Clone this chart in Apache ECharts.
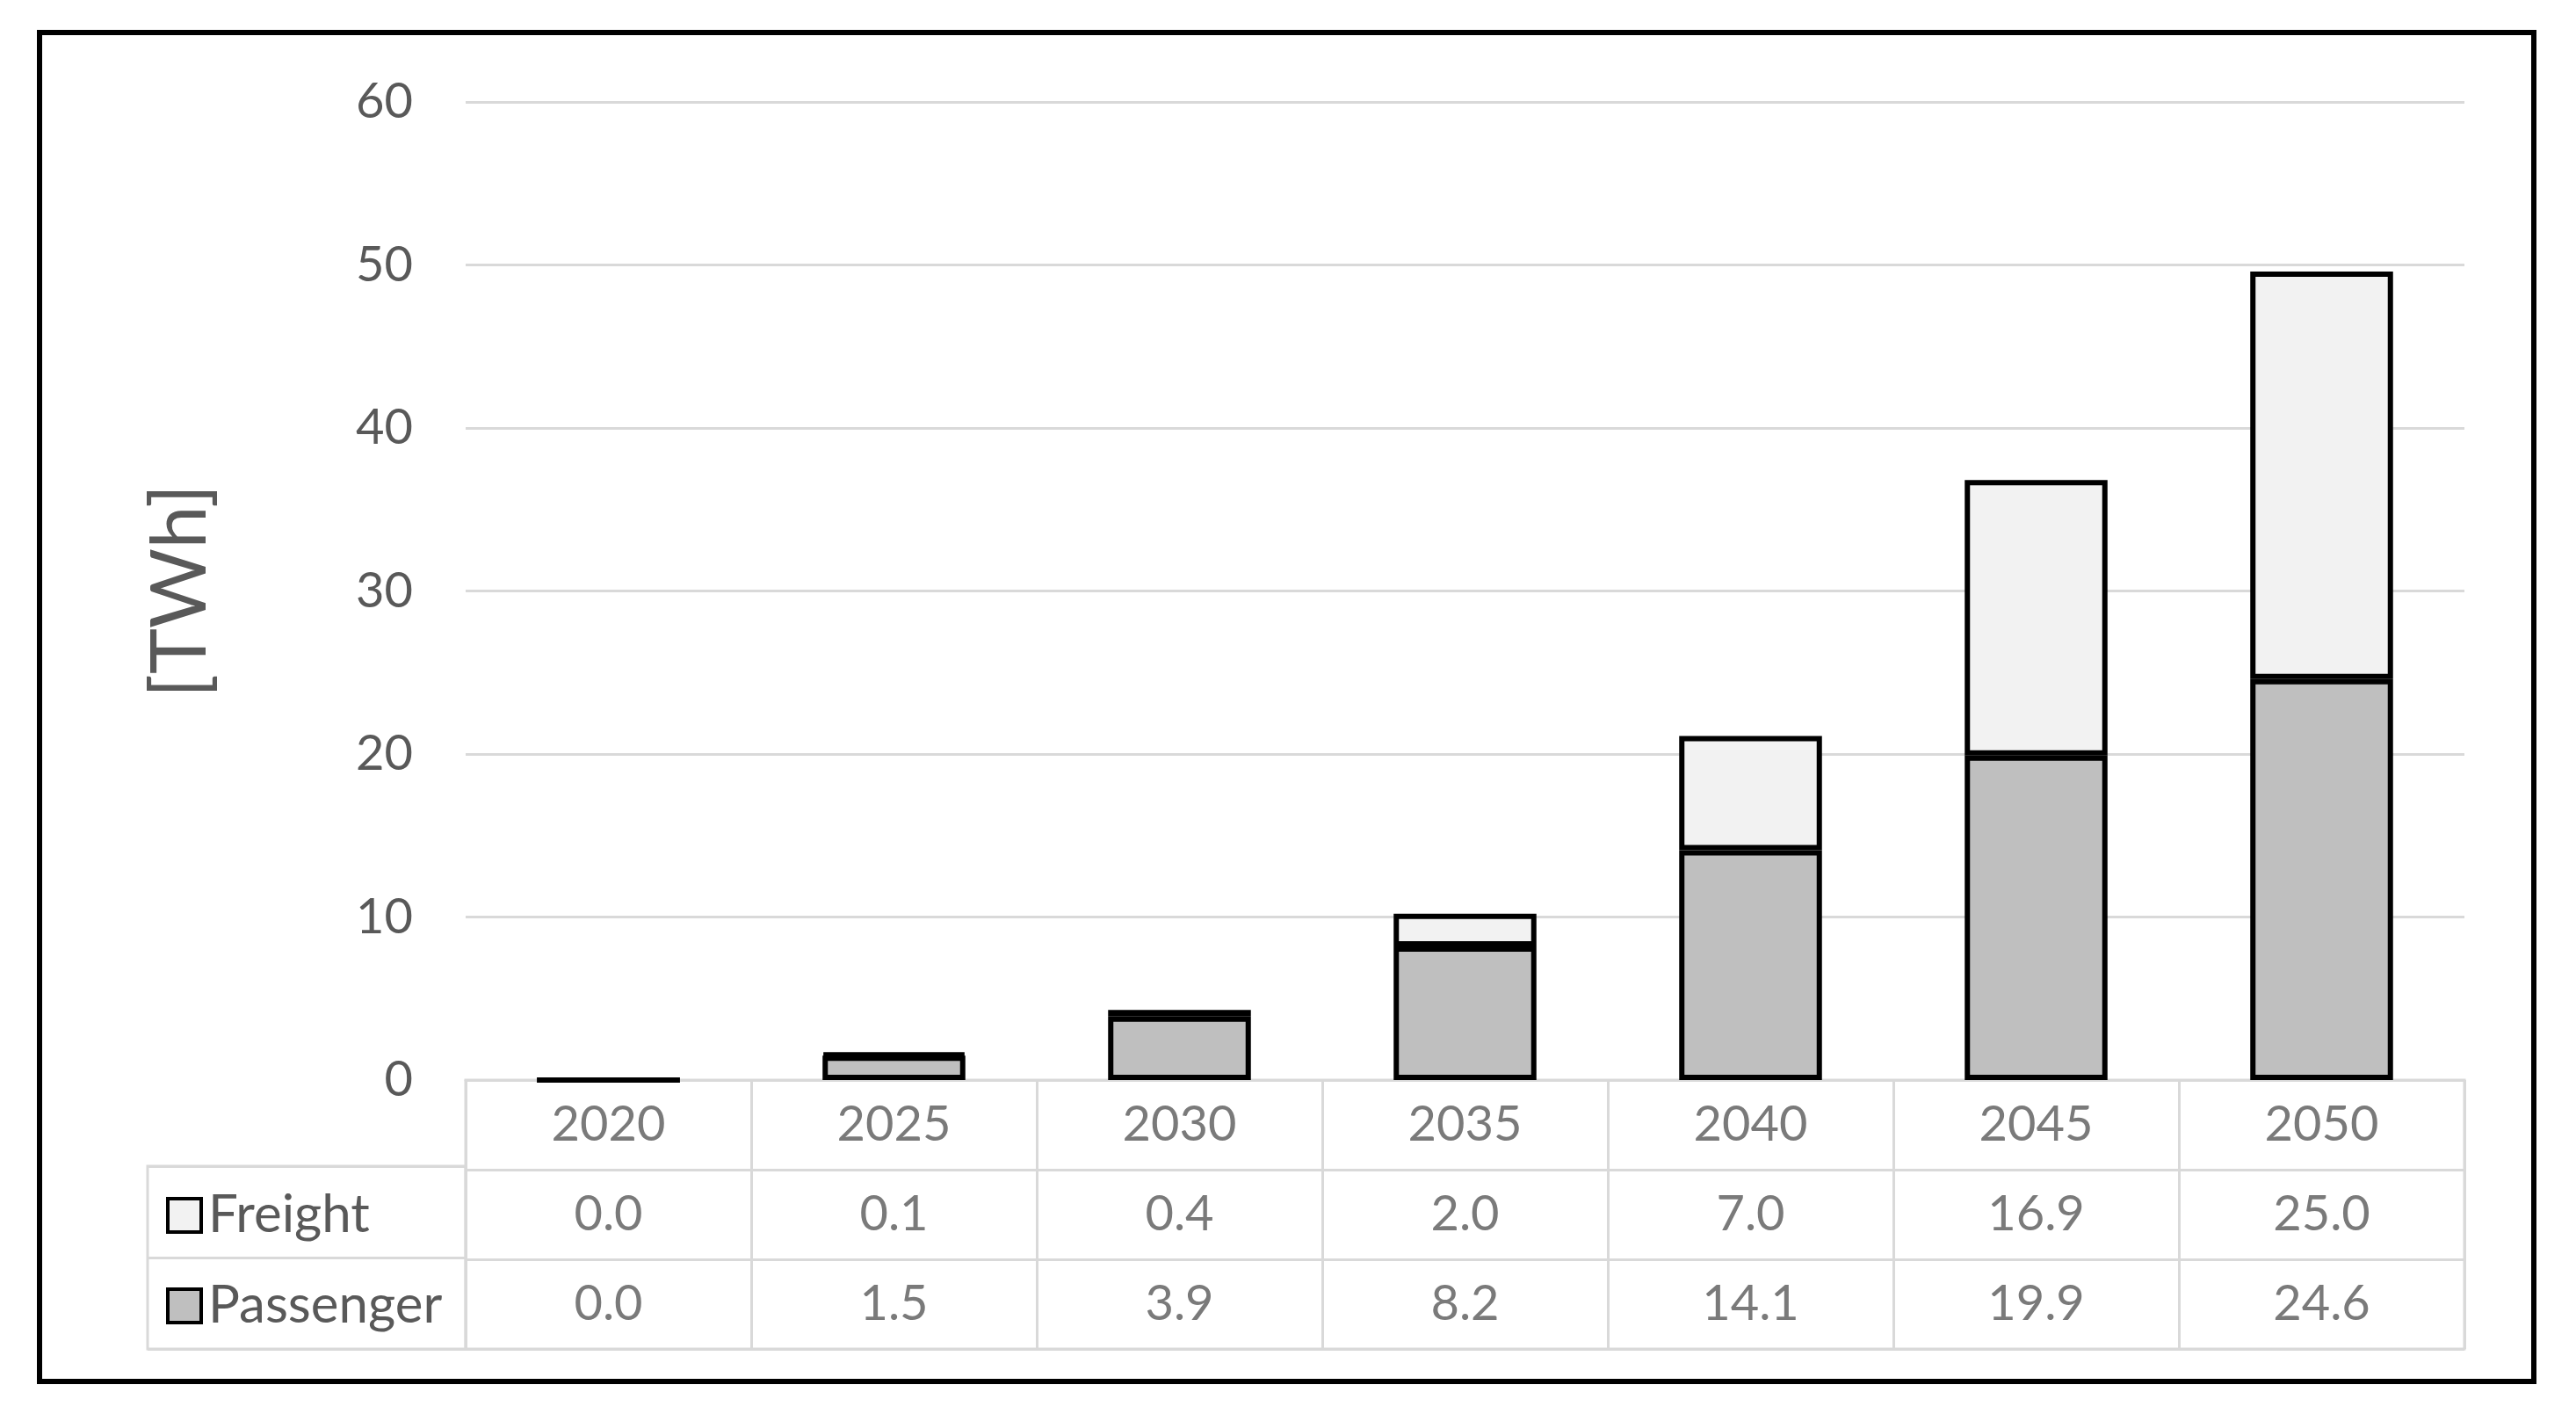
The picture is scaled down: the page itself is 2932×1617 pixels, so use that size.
<!DOCTYPE html>
<html><head><meta charset="utf-8">
<script src="https://cdn.jsdelivr.net/npm/echarts@6/dist/echarts.min.js"></script>
<style>html,body{margin:0;padding:0;background:#fff}#c{width:2932px;height:1617px}</style>
</head><body><div id="c"></div>
<script>
// ---- data ----
const categories = ['2020','2025','2030','2035','2040','2045','2050'];
const freight = [0.0, 0.1, 0.4, 2.0, 7.0, 16.9, 25.0];
const passenger = [0.0, 1.5, 3.9, 8.2, 14.1, 19.9, 24.6];
const yMin = 0, yMax = 60, yStep = 10;
const tableRows = ['year', 'Freight', 'Passenger'];
const legendRows = ['Freight', 'Passenger'];
const yTitle = '[TWh]';

// ---- styles ----
const FONT = 'Lato';
const TXT = '#595959';
const GRIDC = '#D9D9D9';
const FS = 56;

const chart = echarts.init(document.getElementById('c'), null, {renderer: 'canvas'});

function cellSeries(name, row, values, fmt) {
  return {
    name: name, type: 'scatter', xAxisIndex: 1, yAxisIndex: 1,
    symbolSize: 1, itemStyle: {color: 'rgba(0,0,0,0)'}, silent: true, z: 10,
    data: values.map((v, i) => [categories[i], row, v]),
    label: {show: true, position: 'inside', color: TXT, fontSize: FS, fontFamily: FONT,
      formatter: p => fmt(p.value[2])}
  };
}

const legendBase = {
  orient: 'vertical', padding: 0, left: 189,
  icon: 'rect', itemWidth: 38, itemHeight: 38,
  itemStyle: {borderColor: '#000', borderWidth: 4},
  textStyle: {color: TXT, fontSize: 60, fontFamily: FONT, lineHeight: 38, padding: [0, 0, 0, 3]}
};

const option = {
  animation: false,
  backgroundColor: '#fff',
  graphic: [{type: 'rect', shape: {x: 45, y: 37, width: 2839, height: 1535},
    style: {fill: 'none', stroke: '#000', lineWidth: 6}, z: 100}],
  legend: [
    Object.assign({}, legendBase, {data: ['Freight'], top: 1353}),
    Object.assign({}, legendBase, {data: ['Passenger'], top: 1456})
  ],
  grid: [
    {left: 530, right: 127, top: 116, bottom: 1617 - 1229},
    {left: 530, right: 127, top: 1229, bottom: 1617 - 1535, show: true, borderColor: GRIDC, borderWidth: 3},
    {left: 168, width: 362, top: 1327, bottom: 1617 - 1535, show: true, borderColor: GRIDC, borderWidth: 3}
  ],
  xAxis: [
    {type: 'category', gridIndex: 0, data: categories,
     axisLine: {show: true, lineStyle: {color: GRIDC, width: 3}}, axisTick: {show: false},
     axisLabel: {show: false}},
    {type: 'category', gridIndex: 1, data: categories,
     axisLine: {show: false}, axisTick: {show: false}, axisLabel: {show: false},
     splitLine: {show: true, lineStyle: {color: GRIDC, width: 3}}},
    {type: 'value', gridIndex: 2, show: false}
  ],
  yAxis: [
    {type: 'value', gridIndex: 0, min: yMin, max: yMax, interval: yStep,
     axisLine: {show: false}, axisTick: {show: false},
     axisLabel: {color: TXT, fontSize: FS, fontFamily: FONT, margin: 60},
     splitLine: {lineStyle: {color: GRIDC, width: 3}},
     name: yTitle, nameLocation: 'middle', nameGap: 280,
     nameTextStyle: {color: TXT, fontSize: 88, fontFamily: FONT}},
    {type: 'category', gridIndex: 1, data: tableRows, inverse: true,
     axisLine: {show: false}, axisTick: {show: false}, axisLabel: {show: false},
     splitLine: {show: true, lineStyle: {color: GRIDC, width: 3}}},
    {type: 'category', gridIndex: 2, data: legendRows, inverse: true,
     axisLine: {show: false}, axisTick: {show: false}, axisLabel: {show: false},
     splitLine: {show: true, lineStyle: {color: GRIDC, width: 3}}}
  ],
  series: [
    {name: 'Passenger', type: 'bar', stack: 'total', data: passenger, barWidth: '50%',
     itemStyle: {color: '#BFBFBF', borderColor: '#000', borderWidth: 6}},
    {name: 'Freight', type: 'bar', stack: 'total', data: freight, barWidth: '50%',
     itemStyle: {color: '#F2F2F2', borderColor: '#000', borderWidth: 6}},
    cellSeries('yearRow', 'year', categories, v => v),
    cellSeries('freightRow', 'Freight', freight, v => Number(v).toFixed(1)),
    cellSeries('passengerRow', 'Passenger', passenger, v => Number(v).toFixed(1))
  ]
};
chart.setOption(option);
</script>
</body></html>
